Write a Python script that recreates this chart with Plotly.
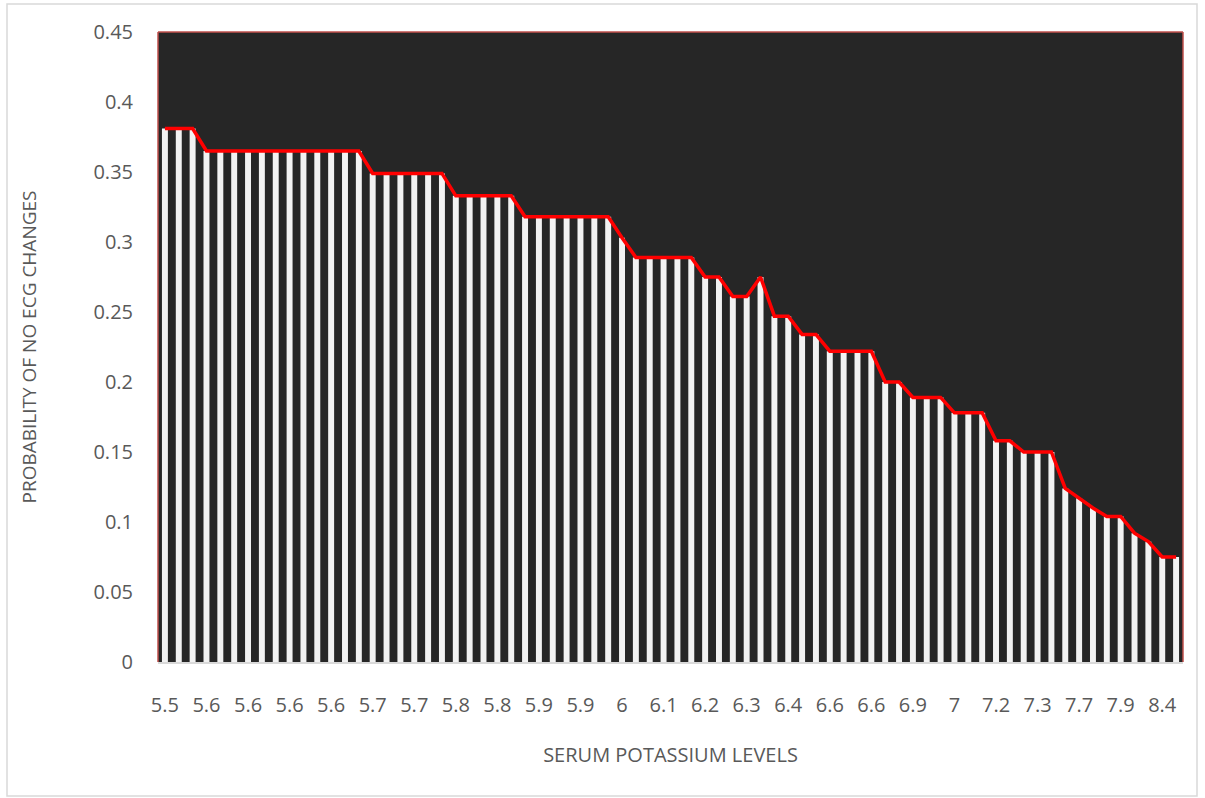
import plotly.graph_objects as go

# Serum potassium level for each patient-step (only every 3rd label is shown on the axis)
potassium = [5.5, 5.5, 5.5, 5.6, 5.6, 5.6, 5.6, 5.6, 5.6, 5.6, 5.6, 5.6, 5.6, 5.6, 5.6,
             5.7, 5.7, 5.7, 5.7, 5.7, 5.7, 5.8, 5.8, 5.8, 5.8, 5.8,
             5.9, 5.9, 5.9, 5.9, 5.9, 5.9, 5.9, 6, 6.1, 6.1, 6.1, 6.1, 6.1,
             6.2, 6.2, 6.3, 6.3, 6.3, 6.4, 6.4, 6.5, 6.5, 6.6, 6.6, 6.6, 6.6,
             6.8, 6.8, 6.9, 6.9, 6.9, 7, 7, 7, 7.2, 7.2, 7.3, 7.3, 7.3,
             7.5, 7.7, 7.8, 7.9, 7.9, 8.1, 8.2, 8.4, 8.4]

probability = [0.381, 0.381, 0.381,
               0.365, 0.365, 0.365, 0.365, 0.365, 0.365, 0.365, 0.365, 0.365, 0.365, 0.365, 0.365,
               0.349, 0.349, 0.349, 0.349, 0.349, 0.349,
               0.333, 0.333, 0.333, 0.333, 0.333,
               0.318, 0.318, 0.318, 0.318, 0.318, 0.318, 0.318,
               0.303,
               0.289, 0.289, 0.289, 0.289, 0.289,
               0.275, 0.275, 0.261, 0.261, 0.275,
               0.247, 0.247, 0.234, 0.234,
               0.222, 0.222, 0.222, 0.222,
               0.200, 0.200, 0.189, 0.189, 0.189,
               0.178, 0.178, 0.178, 0.158, 0.158,
               0.150, 0.150, 0.150,
               0.124, 0.117, 0.110, 0.104, 0.104,
               0.092, 0.086, 0.075, 0.075]

label_step = 3
positions = list(range(len(potassium)))
tick_positions = positions[::label_step]
tick_labels = [f"{v:g}" for v in potassium[::label_step]]

y_ticks = [0, 0.05, 0.1, 0.15, 0.2, 0.25, 0.3, 0.35, 0.4, 0.45]
y_tick_labels = ["0", "0.05", "0.1", "0.15", "0.2", "0.25", "0.3", "0.35", "0.4", "0.45"]

FONT = "'Open Sans', sans-serif"
TEXT = "#595959"

fig = go.Figure()
fig.add_trace(go.Bar(
    x=positions, y=probability,
    marker=dict(color="#f2f2f2", line=dict(width=0)),
    hoverinfo="y", showlegend=False,
))
fig.add_trace(go.Scatter(
    x=positions, y=probability, mode="lines",
    line=dict(color="#ff0000", width=3.5),
    hoverinfo="skip", showlegend=False,
))

L, R, T, B = 158, 22, 32, 136
W, H = 1205, 798
pw, ph = W - L - R, H - T - B

fig.update_layout(
    width=W, height=H,
    margin=dict(l=L, r=R, t=T, b=B),
    paper_bgcolor="white",
    plot_bgcolor="#262626",
    bargap=0.57,
    font=dict(family=FONT, color=TEXT, size=19),
    xaxis=dict(
        range=[-0.5, len(positions) - 0.5],
        tickmode="array", tickvals=tick_positions, ticktext=tick_labels,
        showgrid=False, zeroline=False, ticks="",
        showline=True, linecolor="#d9d9d9", linewidth=1.5,
        ticklabelstandoff=24,
        tickfont=dict(size=20, color=TEXT, family=FONT),
        title=dict(text="SERUM POTASSIUM LEVELS", standoff=31,
                   font=dict(size=20, color=TEXT, family=FONT)),
    ),
    yaxis=dict(
        range=[0, 0.45],
        tickmode="array", tickvals=y_ticks, ticktext=y_tick_labels,
        showgrid=False, zeroline=False, ticks="",
        ticklabelstandoff=24,
        tickfont=dict(size=20, color=TEXT, family=FONT),
        title=dict(text="PROBABILITY OF NO ECG CHANGES", standoff=51,
                   font=dict(size=19, color=TEXT, family=FONT)),
    ),
    shapes=[
        # plot-area outline (left, top, right)
        dict(type="line", xref="paper", yref="paper", x0=0, x1=0, y0=0, y1=1,
             line=dict(color="#c0504d", width=1.5)),
        dict(type="line", xref="paper", yref="paper", x0=0, x1=1, y0=1, y1=1,
             line=dict(color="#c0504d", width=1.5)),
        dict(type="line", xref="paper", yref="paper", x0=1, x1=1, y0=0, y1=1,
             line=dict(color="#c0504d", width=1.5)),
        # outer chart border
        dict(type="rect", xref="paper", yref="paper",
             x0=(7 - L) / pw, x1=(1197 - L) / pw,
             y0=(H - B - 796) / ph, y1=(H - B - 4) / ph,
             line=dict(color="#d9d9d9", width=1.5), layer="below"),
    ],
)

fig.write_html(
    "out.html",
    config={"displayModeBar": False},
    post_script="document.body.style.margin='0';document.body.style.overflow='hidden';",
)
